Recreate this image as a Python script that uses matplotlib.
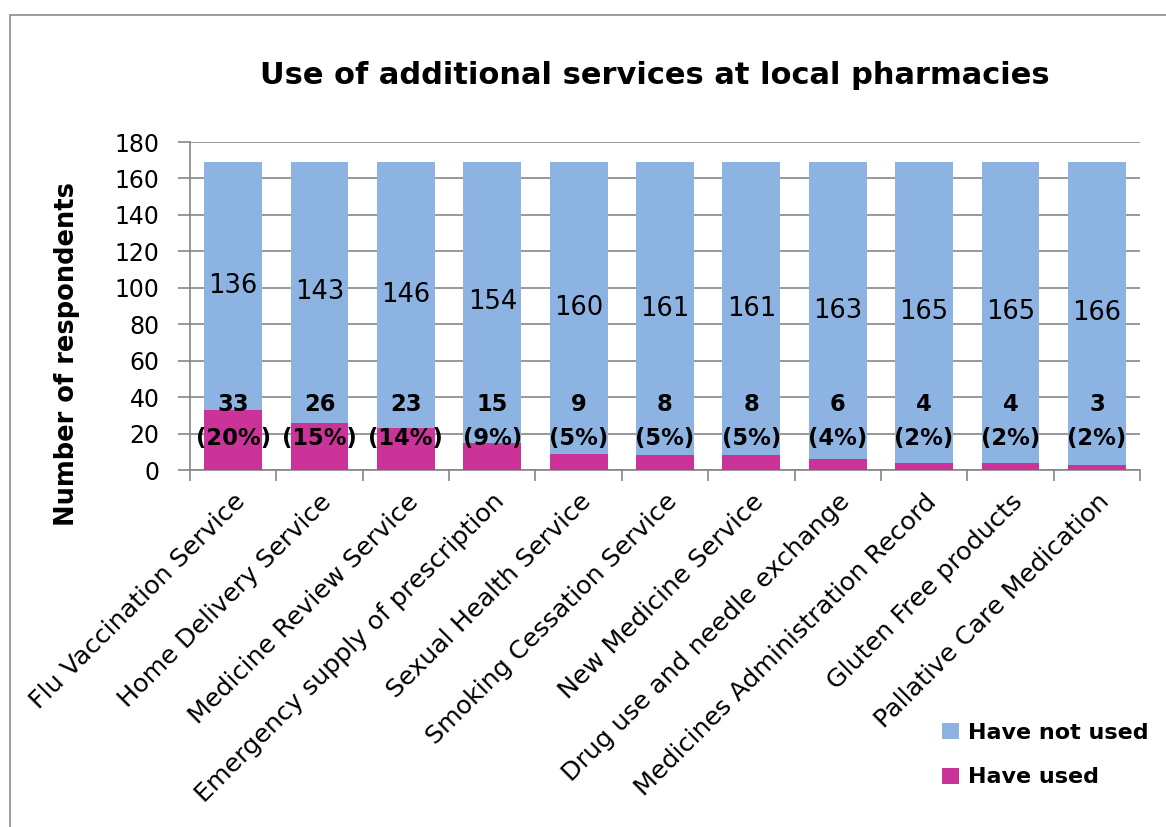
import matplotlib.pyplot as plt
from matplotlib.patches import Rectangle
import numpy as np

services = ['Flu Vaccination Service', 'Home Delivery Service', 'Medicine Review Service',
            'Emergency supply of prescription', 'Sexual Health Service',
            'Smoking Cessation Service', 'New Medicine Service',
            'Drug use and needle exchange', 'Medicines Administration Record',
            'Gluten Free products', 'Pallative Care Medication']
have_used = [33, 26, 23, 15, 9, 8, 8, 6, 4, 4, 3]
have_not_used = [136, 143, 146, 154, 160, 161, 161, 163, 165, 165, 166]
used_pct = ['20%', '15%', '14%', '9%', '5%', '5%', '5%', '4%', '2%', '2%', '2%']

BLUE = '#8db3e2'
PINK = '#cc3399'
GREY = '#868686'

plt.rcParams['font.family'] = ['DejaVu Sans']

fig = plt.figure(figsize=(11.66, 8.27), dpi=100)
ax = fig.add_axes([190 / 1166, 1 - 470 / 827, 950 / 1166, 328 / 827])

# outer chart border (cut off at right and bottom like the screenshot)
fig.patches.append(Rectangle((10 / 1166, -0.1), 1.2, 1 - 15 / 827 + 0.1,
                             transform=fig.transFigure, fill=False,
                             edgecolor='#8c8c8c', linewidth=1.2))

x = np.arange(len(services))
w = 0.67
ax.bar(x, have_used, w, color=PINK, label='Have used', zorder=3)
ax.bar(x, have_not_used, w, bottom=have_used, color=BLUE, label='Have not used', zorder=3)

for i in range(len(services)):
    mid = have_used[i] + have_not_used[i] / 2
    ax.text(x[i], mid, str(have_not_used[i]), ha='center', va='center',
            fontsize=18.5, zorder=4)
    ax.text(x[i], 26.5, '%d\n(%s)' % (have_used[i], used_pct[i]), ha='center',
            va='center', fontsize=16.3, fontweight='bold', linespacing=1.6, zorder=4)

ax.set_xlim(-0.5, len(services) - 0.5)
ax.set_ylim(0, 180)
ax.set_yticks(np.arange(0, 181, 20))
ax.grid(axis='y', color=GREY, linewidth=1.2, zorder=0)
ax.set_xticks(x)
ax.set_xticklabels(services, rotation=45, ha='right', va='top',
                   rotation_mode='anchor', fontsize=18.3)
ax.set_xticks(np.arange(-0.5, len(services)), minor=True)
ax.tick_params(axis='x', which='major', length=0, pad=14)
ax.tick_params(axis='x', which='minor', length=8, color=GREY, width=1.2)
ax.tick_params(axis='y', length=9, color=GREY, width=1.2, labelsize=17, pad=13)
for side in ['top', 'right']:
    ax.spines[side].set_visible(False)
for side in ['left', 'bottom']:
    ax.spines[side].set_color(GREY)
    ax.spines[side].set_linewidth(1.2)

ax.set_ylabel('Number of respondents', fontsize=18.5, fontweight='bold')
ax.yaxis.set_label_coords(-0.116, 0.354)
fig.text(655 / 1166, 1 - 75 / 827, 'Use of additional services at local pharmacies',
         ha='center', va='center', fontsize=22, fontweight='bold')

handles, labels = ax.get_legend_handles_labels()
fig.legend(handles[::-1], labels[::-1], loc='upper left',
           bbox_to_anchor=(922 / 1166, 1 - 703 / 827), frameon=False,
           handlelength=0.75, handleheight=0.75, handletextpad=0.4,
           labelspacing=1.1, prop={'size': 16, 'weight': 'bold'})

fig.savefig('out.png', dpi=100)
